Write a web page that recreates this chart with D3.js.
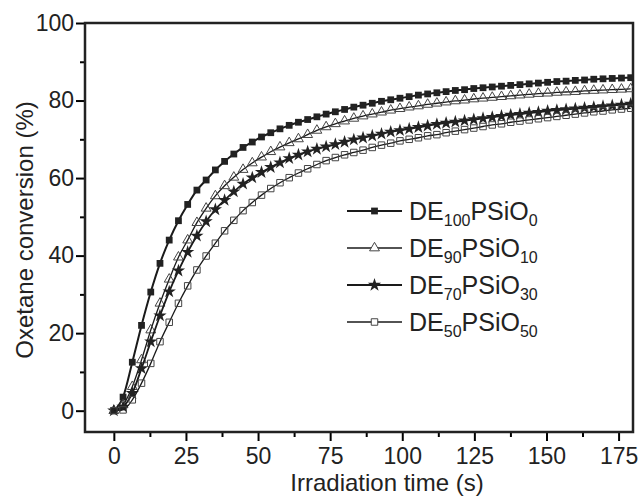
<!DOCTYPE html>
<html>
<head>
<meta charset="utf-8">
<script src="https://cdn.jsdelivr.net/npm/d3@7"></script>
<style>
  body { margin: 0; background: #fff; }
  svg { display: block; font-family: "Liberation Sans", Arial, sans-serif; }
</style>
</head>
<body>
<svg id="chart" width="641" height="496"></svg>
<script>
// sampling times (s)
var times = [0, 3.2, 6.4, 9.6, 12.8, 16, 19.2, 22.4, 25.6, 28.8, 32, 35.2, 38.4, 41.6, 44.8, 48,
  51.2, 54.4, 57.6, 60.8, 64, 67.2, 70.4, 73.6, 76.8, 80, 83.2, 86.4, 89.6, 92.8, 96, 99.2,
  102.4, 105.6, 108.8, 112, 115.2, 118.4, 121.6, 124.8, 128, 131.2, 134.4, 137.6, 140.8, 144,
  147.2, 150.4, 153.6, 156.8, 160, 163.2, 166.4, 169.6, 172.8, 176, 179.2];

// oxetane conversion (%)
var de100 = [0, 3.5, 12.5, 22.0, 30.6, 38.0, 44.0, 49.0, 53.2, 56.9, 59.5, 62.1, 64.3, 66.2, 67.9, 69.3,
  70.6, 71.7, 72.7, 73.6, 74.4, 75.1, 75.8, 76.5, 77.1, 77.7, 78.3, 78.8, 79.3, 79.8, 80.2, 80.6,
  81.0, 81.4, 81.7, 82.0, 82.3, 82.6, 82.8, 83.1, 83.3, 83.5, 83.7, 83.9, 84.1, 84.3, 84.5, 84.7,
  84.9, 85.0, 85.2, 85.3, 85.5, 85.6, 85.7, 85.8, 85.9];
var de90 = [0, 1.5, 6.2, 13.1, 20.8, 27.7, 33.9, 39.6, 44.0, 48.5, 52.2, 55.4, 58.0, 60.2, 62.2, 63.9,
  65.4, 66.8, 68.0, 69.1, 70.1, 71.2, 72.3, 73.2, 74.0, 74.7, 75.4, 76.0, 76.5, 77.0, 77.5, 77.9,
  78.3, 78.6, 79.0, 79.3, 79.6, 79.9, 80.1, 80.4, 80.6, 80.8, 81.0, 81.2, 81.4, 81.6, 81.8, 81.9,
  82.1, 82.2, 82.3, 82.5, 82.6, 82.7, 82.8, 82.9, 83.0];
var de70 = [0, 1.0, 4.5, 10.9, 17.8, 24.5, 30.7, 36.1, 40.9, 45.1, 48.8, 51.9, 54.3, 56.5, 58.5, 60.1,
  61.5, 62.8, 64.0, 65.1, 66.0, 66.8, 67.5, 68.1, 68.7, 69.3, 69.9, 70.4, 70.9, 71.4, 71.9, 72.3,
  72.7, 73.1, 73.5, 73.9, 74.2, 74.5, 74.8, 75.1, 75.4, 75.7, 76.0, 76.3, 76.5, 76.8, 77.0, 77.3,
  77.5, 77.7, 77.9, 78.1, 78.3, 78.5, 78.7, 78.9, 79.1];
var de50 = [0, 0.2, 2.8, 7.1, 12.2, 17.8, 22.8, 27.7, 32.2, 36.3, 39.9, 43.2, 46.4, 49.1, 51.6, 53.7,
  55.6, 57.3, 58.8, 60.1, 61.3, 62.4, 63.5, 64.5, 65.3, 66.0, 66.6, 67.2, 67.9, 68.5, 69.0, 69.6,
  70.0, 70.4, 70.9, 71.2, 71.7, 72.1, 72.5, 72.9, 73.3, 73.7, 74.0, 74.4, 74.7, 75.0, 75.3, 75.6,
  75.9, 76.2, 76.5, 76.8, 77.1, 77.3, 77.6, 77.8, 78.0];

var xTicks = [0, 25, 50, 75, 100, 125, 150, 175];
var yTicks = [0, 20, 40, 60, 80, 100];

var series = [
  {name: ["DE", "100", "PSiO", "0"], values: de100, symbol: d3.symbolSquare, size: 46, fill: "#222", lw: 2},
  {name: ["DE", "90", "PSiO", "10"], values: de90, symbol: d3.symbolTriangle, size: 42, fill: "none", lw: 1.3},
  {name: ["DE", "70", "PSiO", "30"], values: de70, symbol: d3.symbolStar, size: 55, fill: "#222", lw: 1.8},
  {name: ["DE", "50", "PSiO", "50"], values: de50, symbol: d3.symbolSquare, size: 42, fill: "none", lw: 1.3}
];

var margin = {top: 23, right: 8, bottom: 64, left: 85},
    width = 641 - margin.left - margin.right,
    height = 496 - margin.top - margin.bottom;

var svg = d3.select("#chart");
var g = svg.append("g").attr("transform", "translate(" + margin.left + "," + margin.top + ")");

var x = d3.scaleLinear().domain([-10, 180]).range([0, width]);
var y = d3.scaleLinear().domain([-5.5, 100]).range([height, 0]);

g.append("clipPath").attr("id", "clip")
  .append("rect").attr("width", width).attr("height", height);

// minor ticks
g.append("g")
  .attr("transform", "translate(0," + height + ")")
  .call(d3.axisBottom(x).tickValues(d3.range(12.5, 180, 25)).tickSize(5).tickFormat(""))
  .call(function(a) { a.select(".domain").remove(); a.selectAll("line").attr("stroke-width", 2); });
g.append("g")
  .call(d3.axisLeft(y).tickValues(d3.range(10, 100, 20)).tickSize(5).tickFormat(""))
  .call(function(a) { a.select(".domain").remove(); a.selectAll("line").attr("stroke-width", 2); });

// major ticks
var xAxis = g.append("g")
  .attr("transform", "translate(0," + height + ")")
  .call(d3.axisBottom(x).tickValues(xTicks).tickSize(9).tickPadding(7));
xAxis.select(".domain").remove();
xAxis.selectAll("line").attr("stroke-width", 2);
xAxis.selectAll("text").attr("font-size", 23).attr("fill", "#222")
  .attr("font-family", "Liberation Sans, Arial, sans-serif");

var yAxis = g.append("g")
  .call(d3.axisLeft(y).tickValues(yTicks).tickSize(9).tickPadding(2));
yAxis.select(".domain").remove();
yAxis.selectAll("line").attr("stroke-width", 2);
yAxis.selectAll("text").attr("font-size", 23).attr("fill", "#222")
  .attr("font-family", "Liberation Sans, Arial, sans-serif");

// frame
g.append("rect").attr("width", width).attr("height", height)
  .attr("fill", "none").attr("stroke", "#222").attr("stroke-width", 2.5);

// curves and markers
var line = d3.line()
  .x(function(d, i) { return x(times[i]); })
  .y(function(d) { return y(d); })
  .curve(d3.curveMonotoneX);

var plot = g.append("g").attr("clip-path", "url(#clip)");
series.forEach(function(s) {
  plot.append("path").datum(s.values)
    .attr("d", line).attr("fill", "none").attr("stroke", "#1a1a1a").attr("stroke-width", s.lw);
  plot.selectAll(null).data(s.values).enter().append("path")
    .attr("transform", function(d, i) { return "translate(" + x(times[i]) + "," + y(d) + ")"; })
    .attr("d", d3.symbol().type(s.symbol).size(s.size))
    .attr("fill", s.fill === "none" ? "none" : s.fill)
    .attr("stroke", s.fill === "none" ? "#444" : "none")
    .attr("stroke-width", 1);
});

// legend
var legend = g.append("g").attr("transform", "translate(262,188)");
series.forEach(function(s, i) {
  var row = legend.append("g").attr("transform", "translate(0," + (i * 37) + ")");
  row.append("line").attr("x1", 0).attr("x2", 55).attr("stroke", "#1a1a1a").attr("stroke-width", s.lw);
  row.append("path").attr("transform", "translate(27.5,0)")
    .attr("d", d3.symbol().type(s.symbol).size(s.size))
    .attr("fill", s.fill === "none" ? "#fff" : s.fill)
    .attr("stroke", s.fill === "none" ? "#444" : "none");
  var t = row.append("text").attr("x", 62).attr("y", 9).attr("fill", "#222").attr("font-size", 25);
  t.append("tspan").text(s.name[0]);
  t.append("tspan").attr("font-size", 16).attr("dy", 6).text(s.name[1]);
  t.append("tspan").attr("dy", -6).text(s.name[2]);
  t.append("tspan").attr("font-size", 16).attr("dy", 6).text(s.name[3]);
});

// axis titles
svg.append("text")
  .attr("x", 387).attr("y", 491)
  .attr("text-anchor", "middle").attr("font-size", 24).attr("fill", "#222")
  .text("Irradiation time (s)");
svg.append("text")
  .attr("transform", "translate(33,230) rotate(-90)")
  .attr("text-anchor", "middle").attr("font-size", 24).attr("fill", "#222")
  .text("Oxetane conversion (%)");
</script>
</body>
</html>
